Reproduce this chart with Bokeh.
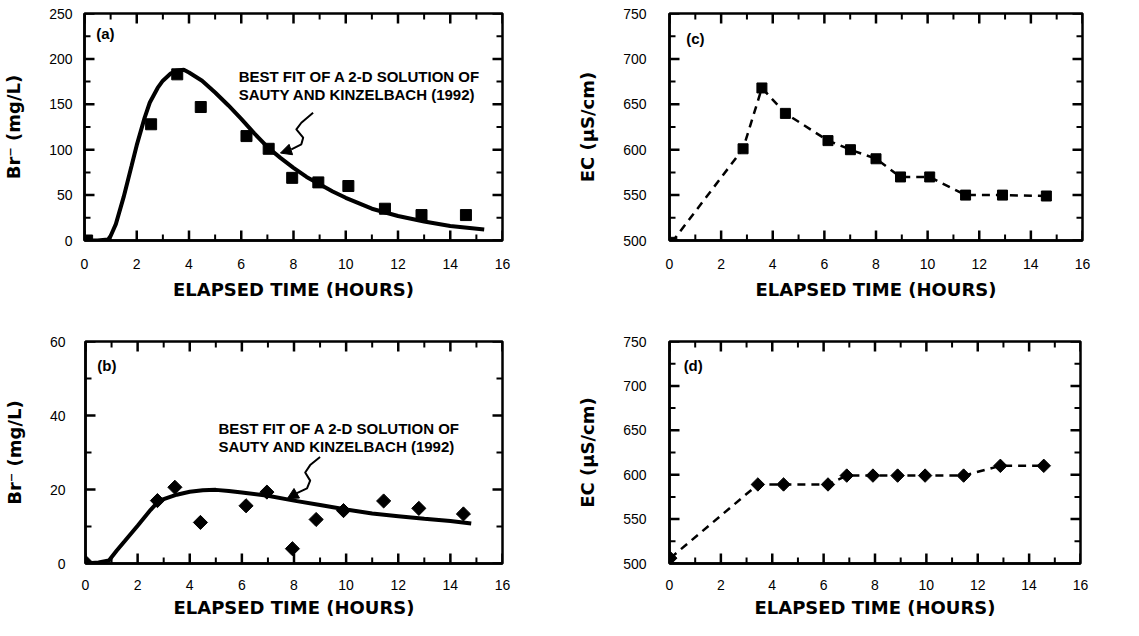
import math
from bokeh.plotting import figure
from bokeh.layouts import column, row
from bokeh.models import Range1d, SingleIntervalTicker, Arrow, NormalHead, Label
from bokeh.embed import file_html
from bokeh.resources import INLINE

# ---------------- data ----------------
# (a) Br- measured (squares) and best fit
a_time = [0.1, 2.55, 3.55, 4.45, 6.2, 7.05, 7.95, 8.95, 10.1, 11.5, 12.9, 14.6]
a_br = [0, 128, 183, 147, 115, 101, 69, 64, 60, 35, 28, 28]
a_fit_time = [0, 0.5, 0.9, 1.0, 1.2, 1.5, 1.8, 2.0, 2.3, 2.5, 2.8, 3.0, 3.3, 3.5, 3.8, 4.0,
              4.5, 5.0, 5.5, 6.0, 6.5, 7.0, 7.5, 8.0, 8.5, 9.0, 9.5, 10.0, 11.0, 12.0, 13.0, 14.0, 15.3]
a_fit_br = [0, 0, 1, 5, 18, 48, 82, 105, 135, 152, 168, 176, 184, 187, 188, 185,
            176, 163, 149, 134, 118, 103, 91, 80, 70, 62, 54, 47, 35, 27, 21, 16, 12]

# (b) Br- measured (diamonds) and best fit
b_time = [0.05, 2.76, 3.43, 4.41, 6.16, 6.96, 7.94, 8.85, 9.9, 11.44, 12.79, 14.5]
b_br = [0, 17, 20.6, 11.1, 15.6, 19.3, 4.0, 11.9, 14.3, 16.9, 14.9, 13.4]
b_fit_time = [0, 0.5, 0.9, 1.2, 1.5, 2.0, 2.5, 2.8, 3.0, 3.5, 4.0, 4.5, 5.0, 5.5, 6.0,
              7.0, 8.0, 9.0, 10.0, 11.0, 12.0, 13.0, 14.0, 14.8]
b_fit_br = [0, 0.3, 0.8, 3.5, 6, 10.2, 14.5, 16.8, 17.4, 18.6, 19.4, 19.8, 19.9, 19.6, 19.2,
            18.3, 17.0, 15.8, 14.6, 13.5, 12.8, 12.1, 11.5, 10.8]

# (c) EC (squares)
c_time = [0.09, 2.85, 3.58, 4.49, 6.14, 7.01, 8.0, 8.95, 10.08, 11.47, 12.9, 14.6]
c_ec = [498, 601, 668, 640, 610, 600, 590, 570, 570, 550, 550, 549]

# (d) EC (diamonds)
d_time = [0.03, 3.44, 4.44, 6.17, 6.9, 7.92, 8.88, 9.95, 11.45, 12.88, 14.57]
d_ec = [506, 589, 589, 589, 599, 599, 599, 599, 599, 610, 610]

# tick values
x_major = [0, 2, 4, 6, 8, 10, 12, 14, 16]
x_minor = [1, 3, 5, 7, 9, 11, 13, 15]
a_y_major = [0, 50, 100, 150, 200, 250]
a_y_minor = [25, 75, 125, 175, 225]
b_y_major = [0, 20, 40, 60]
b_y_minor = [10, 30, 50]
ec_y_major = [500, 550, 600, 650, 700, 750]
ec_y_minor = [525, 575, 625, 675, 725]

# texts
fit_line1 = "BEST FIT OF A 2-D SOLUTION OF"
fit_line2 = "SAUTY AND KINZELBACH (1992)"
x_title = "ELAPSED TIME (HOURS)"
br_title = "Br\u207b (mg/L)"
ec_title = "EC (\u00b5S/cm)"

# wavy pointer paths (annotation geometry)
a_ptr_x = [8.75, 8.30, 8.11, 8.37, 8.30, 7.92]
a_ptr_y = [140.7, 129.7, 122.4, 113.2, 105.9, 100.4]
a_ptr_end = (7.50, 96.3)
b_ptr_x = [9.0, 8.62, 8.43, 8.62, 8.50, 8.11]
b_ptr_y = [28.8, 26.6, 24.6, 22.4, 20.3, 19.0]
b_ptr_end = (7.74, 17.5)

TICK_FONT = "Liberation Sans"
TITLE_FONT = "DejaVu Sans"
TICK_COLOR = "black"


def make_fig(width, height, bl, bt, br, bb, y0, y1, yint, ymaj, ymin, ylabel,
             ystand, ylabstand, xstand, xlabstand):
    p = figure(width=width, height=height, output_backend="svg",
               toolbar_location=None, x_range=Range1d(0, 16),
               y_range=Range1d(y0, y1), min_border_left=bl, min_border_top=bt,
               min_border_right=br, min_border_bottom=bb)
    p.outline_line_color = "black"
    p.outline_line_width = 2.5
    p.xgrid.visible = False
    p.ygrid.visible = False

    for ax in (p.xaxis[0], p.yaxis[0]):
        ax.axis_line_width = 2.5
        ax.axis_line_color = "black"
        ax.major_tick_line_color = None
        ax.minor_tick_line_color = None
        ax.major_label_text_font = TICK_FONT
        ax.major_label_text_font_size = "14px"
        ax.major_label_text_color = "black"
        ax.axis_label_text_font = TITLE_FONT
        ax.axis_label_text_font_style = "bold"
        ax.axis_label_text_font_size = "18px"
        ax.axis_label_text_color = "black"
    p.xaxis.ticker = SingleIntervalTicker(interval=2, num_minor_ticks=2)
    p.yaxis.ticker = SingleIntervalTicker(interval=yint, num_minor_ticks=2)
    p.xaxis.axis_label = x_title
    p.xaxis.major_label_standoff = xstand
    p.xaxis.axis_label_standoff = xlabstand
    p.yaxis.axis_label = ylabel
    p.yaxis.major_label_standoff = ystand
    p.yaxis.axis_label_standoff = ylabstand

    # inward tick marks on all four sides
    for vals, ln, lw in ((x_major, 10, 2.5), (x_minor, 6, 2)):
        n = len(vals)
        p.ray(x=vals, y=[y0] * n, length=ln, length_units="screen",
              angle=math.pi / 2, line_color=TICK_COLOR, line_width=lw)
        p.ray(x=vals, y=[y1] * n, length=ln, length_units="screen",
              angle=-math.pi / 2, line_color=TICK_COLOR, line_width=lw)
    for vals, ln, lw in ((ymaj, 10, 2.5), (ymin, 6, 2)):
        n = len(vals)
        p.ray(x=[0] * n, y=vals, length=ln, length_units="screen",
              angle=0.0, line_color=TICK_COLOR, line_width=lw)
        p.ray(x=[16] * n, y=vals, length=ln, length_units="screen",
              angle=math.pi, line_color=TICK_COLOR, line_width=lw)
    return p


def panel_label(p, x, y, txt):
    p.add_layout(Label(x=x, y=y, text=txt, text_font="Liberation Sans",
                       text_font_style="bold", text_font_size="15px",
                       text_color="black", text_baseline="middle"))


def fit_text(p, x, y1, y2):
    for yy, t in ((y1, fit_line1), (y2, fit_line2)):
        p.add_layout(Label(x=x, y=yy, text=t, text_font="Liberation Sans",
                           text_font_style="bold", text_font_size="15px",
                           text_color="black", text_baseline="middle"))


def pointer(p, xs, ys, end):
    p.line(xs, ys, line_color="black", line_width=2, line_join="round")
    p.add_layout(Arrow(end=NormalHead(size=11, fill_color="black", line_color="black"),
                       x_start=xs[-1], y_start=ys[-1], x_end=end[0], y_end=end[1],
                       line_color="black", line_width=2))


# ---------- panel (a) ----------
pa = make_fig(560, 310, 82, 13, 58, 70, 0, 250, 50, a_y_major, a_y_minor, br_title,
              6, 22, 12, 7)
pa.line(a_fit_time, a_fit_br, line_color="black", line_width=4)
pa.scatter(a_time, a_br, marker="square", size=11, color="black")
panel_label(pa, 0.45, 228, "(a)")
fit_text(pa, 5.9, 180.6, 160.8)
pointer(pa, a_ptr_x, a_ptr_y, a_ptr_end)

# ---------- panel (b) ----------
pb = make_fig(560, 310, 82, 31, 58, 51, 0, 60, 20, b_y_major, b_y_minor, br_title,
              14, 22, 10, 4)
pb.line(b_fit_time, b_fit_br, line_color="black", line_width=4)
pb.scatter(b_time, b_br, marker="square", angle=0.785398, size=10, color="black")
panel_label(pb, 0.45, 53.4, "(b)")
fit_text(pb, 5.1, 36.6, 31.6)
pointer(pb, b_ptr_x, b_ptr_y, b_ptr_end)

# ---------- panel (c) ----------
pc = make_fig(563, 310, 109, 13, 41, 67, 500, 750, 50, ec_y_major, ec_y_minor, ec_title,
              17, 22, 12, 7)
pc.line(c_time, c_ec, line_color="black", line_width=2.5, line_dash="8 6")
pc.scatter(c_time, c_ec, marker="square", size=10, color="black")
panel_label(pc, 0.65, 723, "(c)")

# ---------- panel (d) ----------
pd_ = make_fig(563, 310, 109, 31, 43, 50, 500, 750, 50, ec_y_major, ec_y_minor, ec_title,
               17, 22, 10, 4)
pd_.line(d_time, d_ec, line_color="black", line_width=2.5, line_dash="8 6")
pd_.scatter(d_time, d_ec, marker="square", angle=0.785398, size=9.5, color="black")
panel_label(pd_, 0.55, 722.7, "(d)")

layout = column(row(pa, pc), row(pb, pd_))
open("out.html", "w").write(file_html(layout, INLINE))
